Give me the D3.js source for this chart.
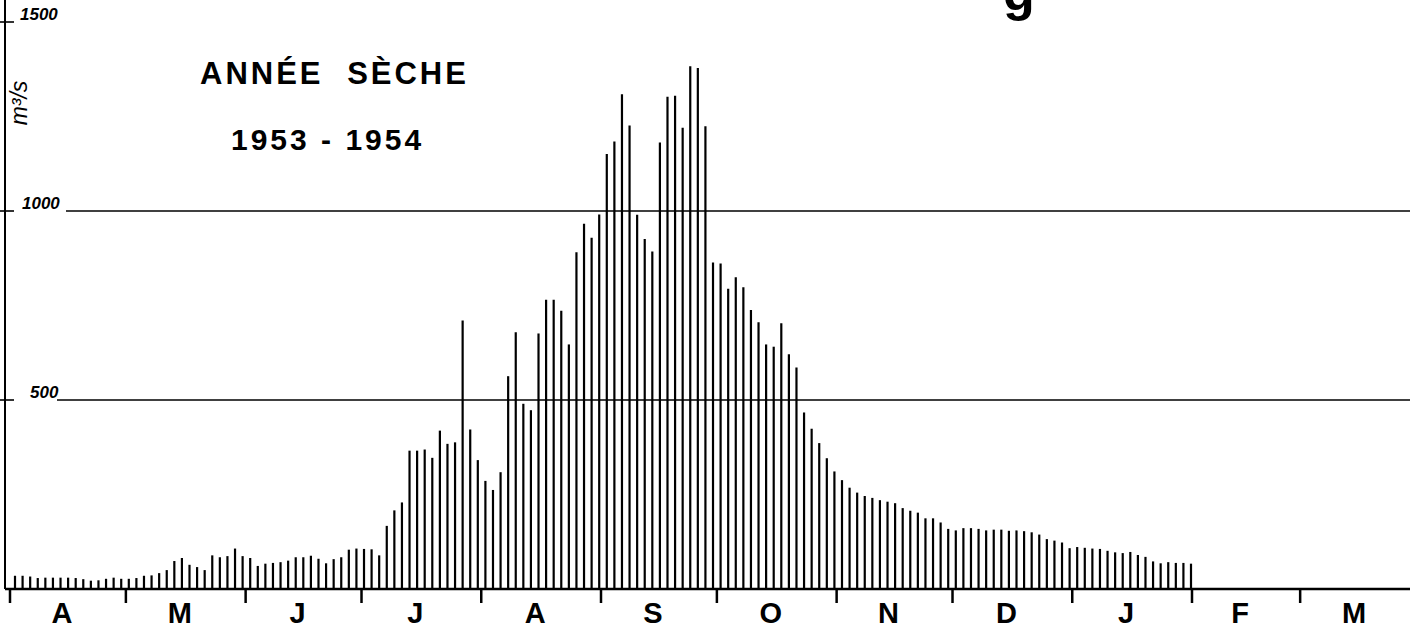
<!DOCTYPE html>
<html>
<head>
<meta charset="utf-8">
<script src="https://cdn.jsdelivr.net/npm/d3@7"></script>
<style>
  html, body { margin: 0; padding: 0; background: #fff; }
  svg { display: block; }
</style>
</head>
<body>
<svg id="chart"></svg>
<script>
// Month initials (April 1953 -> March 1954) and their lengths in days
const months = ["A", "M", "J", "J", "A", "S", "O", "N", "D", "J", "F", "M"];
const monthDays = [30, 31, 30, 31, 31, 30, 31, 30, 31, 31, 28, 31];

// Discharge in m3/s, one bar every ~2 days
const flows = [
  35, 35, 33, 29, 30, 30, 30, 30, 29, 26, 22, 23, 27, 30, 27, 27, 29, 35, 36, 42,
  50, 74, 82, 64, 58, 50, 89, 84, 87, 107, 87, 82, 61, 67, 69, 71, 75, 84, 84, 88,
  80, 68, 79, 84, 104, 107, 106, 105, 89, 167, 208, 229, 366, 366, 369, 347, 419, 384, 388, 710,
  422, 341, 286, 262, 309, 563, 679, 490, 473, 676, 765, 765, 736, 647, 891, 966, 929, 991, 1151, 1184,
  1309, 1226, 990, 926, 893, 1181, 1302, 1305, 1220, 1383, 1378, 1224, 864, 861, 794, 825, 798, 738, 706, 647,
  641, 703, 621, 586, 467, 424, 386, 346, 311, 288, 268, 255, 246, 241, 235, 231, 227, 214, 207, 202,
  187, 187, 176, 159, 155, 161, 161, 159, 155, 157, 157, 154, 155, 153, 150, 144, 132, 128, 123, 108,
  111, 109, 107, 106, 101, 97, 95, 98, 90, 85, 73, 68, 71, 69, 69, 67
];

// y-axis labels and horizontal reference lines
const yLabels = [500, 1000, 1500];
const gridValues = [500, 1000];

const W = 1410, H = 630;
const svg = d3.select("#chart")
  .attr("width", W)
  .attr("height", H);

// Scales
const xDay = d3.scaleLinear().domain([0, 306]).range([10, 1192]);
const xBar = d3.scaleLinear().domain([0, flows.length - 1]).range([15, 1191]);
const y = d3.scaleLinear().domain([0, 1500]).range([589, 22]);

const monthStart = d3.cumsum([0].concat(monthDays.slice(0, -1)));

// left vertical axis
svg.append("line")
  .attr("x1", 5).attr("x2", 5)
  .attr("y1", 0).attr("y2", y(0))
  .attr("stroke", "#000").attr("stroke-width", 2);

svg.selectAll(".ytick")
  .data(yLabels)
  .enter()
  .append("line")
  .attr("class", "ytick")
  .attr("x1", 0).attr("x2", 14)
  .attr("y1", d => y(d)).attr("y2", d => y(d))
  .attr("stroke", "#000").attr("stroke-width", 1.6);

// labels on the y axis (hand-lettered italics)
const labelX = { 500: 30, 1000: 22, 1500: 20 };
svg.selectAll(".ylabel")
  .data(yLabels)
  .enter()
  .append("text")
  .attr("class", "ylabel")
  .attr("x", d => labelX[d])
  .attr("y", d => y(d) - 2)
  .attr("font-family", "Liberation Sans, Arial, sans-serif")
  .attr("font-style", "italic")
  .attr("font-weight", "bold")
  .attr("font-size", 17)
  .text(d => d);

// grid lines at 500 and 1000
const gridStart = { 500: 57, 1000: 66 };
svg.selectAll(".grid")
  .data(gridValues)
  .enter()
  .append("line")
  .attr("class", "grid")
  .attr("x1", d => gridStart[d]).attr("x2", W)
  .attr("y1", d => y(d)).attr("y2", d => y(d))
  .attr("stroke", "#000").attr("stroke-width", 1.6);

// unit
svg.append("text")
  .attr("transform", `translate(27, 103) rotate(-90)`)
  .attr("text-anchor", "middle")
  .attr("font-family", "Liberation Sans, Arial, sans-serif")
  .attr("font-style", "italic")
  .attr("font-size", 23)
  .text("m³/s");

// bars
svg.selectAll(".bar")
  .data(flows)
  .enter()
  .append("line")
  .attr("class", "bar")
  .attr("x1", (d, i) => xBar(i)).attr("x2", (d, i) => xBar(i))
  .attr("y1", y(0)).attr("y2", d => y(d))
  .attr("stroke", "#000").attr("stroke-width", 2.2);

// baseline
svg.append("line")
  .attr("x1", 5).attr("x2", W)
  .attr("y1", y(0)).attr("y2", y(0))
  .attr("stroke", "#000").attr("stroke-width", 2.5);

// month ticks
svg.selectAll(".mtick")
  .data(monthStart)
  .enter()
  .append("line")
  .attr("class", "mtick")
  .attr("x1", d => xDay(d)).attr("x2", d => xDay(d))
  .attr("y1", y(0)).attr("y2", y(0) + 14)
  .attr("stroke", "#000").attr("stroke-width", 2.5);

// month initials
svg.selectAll(".mlabel")
  .data(months)
  .enter()
  .append("text")
  .attr("class", "mlabel")
  .attr("x", (d, i) => xDay(monthStart[i] + monthDays[i] / 2) - 6)
  .attr("y", 623)
  .attr("text-anchor", "middle")
  .attr("font-family", "Liberation Sans, Arial, sans-serif")
  .attr("font-weight", "bold")
  .attr("font-size", 29)
  .text(d => d);

// title block
svg.append("text")
  .attr("x", 200).attr("y", 84)
  .attr("font-family", "Liberation Sans, Arial, sans-serif")
  .attr("font-weight", "bold")
  .attr("font-size", 31)
  .attr("letter-spacing", 3)
  .attr("word-spacing", 12)
  .text("ANNÉE SÈCHE");

svg.append("text")
  .attr("x", 231).attr("y", 150)
  .attr("font-family", "Liberation Sans, Arial, sans-serif")
  .attr("font-weight", "bold")
  .attr("font-size", 30)
  .attr("letter-spacing", 3)
  .text("1953 - 1954");

// bottom of the cut-off figure title above the frame
svg.append("text")
  .attr("x", 1003).attr("y", 10)
  .attr("font-family", "Liberation Sans, Arial, sans-serif")
  .attr("font-weight", "bold")
  .attr("font-size", 52)
  .text("g");
</script>
</body>
</html>
